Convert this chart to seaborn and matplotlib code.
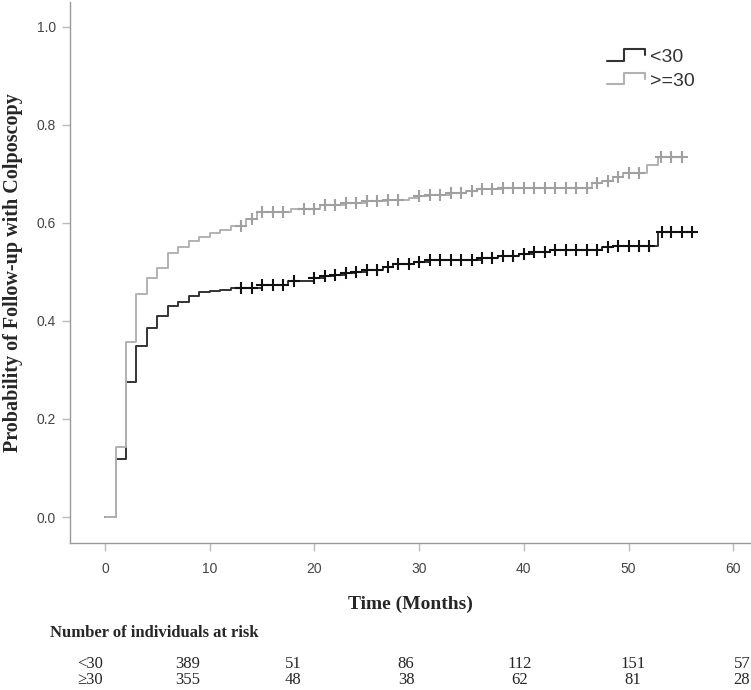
import matplotlib
matplotlib.use("Agg")
import matplotlib.pyplot as plt
from matplotlib.lines import Line2D
from matplotlib.legend_handler import HandlerBase
import seaborn as sns
import numpy as np
import pandas as pd

# Kaplan-Meier style step data
young_times = [0, 1, 2, 3, 4, 5, 6, 7, 8, 9, 10, 11, 12, 15, 17.5, 20, 21, 22, 23, 24,
               25, 26.5, 27.5, 29.5, 31, 34, 36, 37.5, 39.5, 41, 42.5, 47.5, 48.5, 52.8, 56.1]
young_probs = [0.0, 0.118, 0.276, 0.348, 0.385, 0.410, 0.431, 0.439, 0.451, 0.458, 0.461,
               0.463, 0.467, 0.474, 0.482, 0.487, 0.491, 0.494, 0.497, 0.500, 0.504, 0.509,
               0.516, 0.520, 0.523, 0.525, 0.528, 0.533, 0.536, 0.541, 0.545, 0.550, 0.553,
               0.582, 0.582]
young_censor = [13, 14, 15, 16, 17, 18, 20, 21, 22, 23, 24, 25, 26, 27, 28, 29, 30, 31, 32,
                33, 34, 35, 36, 37, 38, 39, 40, 41, 42, 43, 44, 45, 46, 47, 48, 49, 50, 51,
                52, 53.2, 54.1, 55.1, 56.1]

old_times = [0, 1, 2, 3, 4, 5, 6, 7, 8, 9, 10, 11, 12, 13.5, 14.5, 17.8, 20.5, 23, 25, 27,
             29, 30, 31, 33, 34.5, 35.5, 38, 46.5, 47.5, 48.5, 49.5, 51.8, 52.8, 55.1]
old_probs = [0.0, 0.142, 0.357, 0.455, 0.487, 0.508, 0.538, 0.550, 0.562, 0.570, 0.579,
             0.586, 0.594, 0.607, 0.621, 0.628, 0.636, 0.641, 0.644, 0.647, 0.650, 0.654,
             0.657, 0.661, 0.665, 0.669, 0.671, 0.681, 0.686, 0.693, 0.701, 0.718, 0.735,
             0.735]
old_censor = [13, 14, 15, 16, 17, 19, 20, 21, 22, 23, 24, 25, 26, 27, 28, 30, 31, 32, 33,
              34, 35, 36, 37, 38, 39, 40, 41, 42, 43, 44, 45, 46, 47, 48, 49, 50, 51,
              53.1, 54.1, 55.1]

groups = ["<30", ">=30"]
risk_labels = ["<30", "\u226530"]
risk_young = [389, 51, 86, 112, 151, 57]
risk_old = [355, 48, 38, 62, 81, 28]

colors = {"<30": "#333333", ">=30": "#b2b2b2"}
censor_colors = {"<30": "#111111", ">=30": "#a0a0a0"}

curves = pd.concat([
    pd.DataFrame({"time": young_times, "prob": young_probs, "group": "<30"}),
    pd.DataFrame({"time": old_times, "prob": old_probs, "group": ">=30"}),
], ignore_index=True)


def censor_frame(times, probs, ctimes, name):
    idx = np.searchsorted(times, ctimes, side="right") - 1
    return pd.DataFrame({"time": ctimes, "prob": np.asarray(probs)[idx], "group": name})


marks = pd.concat([
    censor_frame(young_times, young_probs, young_censor, "<30"),
    censor_frame(old_times, old_probs, old_censor, ">=30"),
], ignore_index=True)


class StepHandler(HandlerBase):
    # draws the little step glyph used in the legend
    def create_artists(self, legend, orig_handle, xdescent, ydescent, width, height, fontsize, trans):
        xs = np.array([0, 0.45, 0.45, 1.0, 1.0]) * width - xdescent
        ys = np.array([0.1, 0.1, 0.95, 0.95, 0.5]) * height - ydescent
        line = Line2D(xs, ys, color=orig_handle.get_color(), lw=1.5)
        line.set_transform(trans)
        return [line]


sns.set_style("ticks")
fig = plt.figure(figsize=(7.51, 6.90), dpi=100)
ax = fig.add_axes([70 / 751, 1 - 543 / 690, 680 / 751, 541 / 690])

sns.lineplot(data=curves, x="time", y="prob", hue="group", palette=colors,
             drawstyle="steps-post", estimator=None, linewidth=1.4, legend=False, ax=ax)
for g in groups:
    sub = marks[marks["group"] == g]
    ax.plot(sub["time"], sub["prob"], linestyle="none", marker="+", markersize=8,
            markeredgewidth=1.5, color=censor_colors[g])

ax.set_xlim(-3.35, 61.6)
ax.set_ylim(-0.053, 1.05)
ax.set_xticks([0, 10, 20, 30, 40, 50, 60])
ax.set_yticks([0.0, 0.2, 0.4, 0.6, 0.8, 1.0])
ax.set_yticklabels(["0.0", "0.2", "0.4", "0.6", "0.8", "1.0"])
sns.despine(ax=ax)
for side in ["left", "bottom"]:
    ax.spines[side].set_color("#9a9a9a")
    ax.spines[side].set_linewidth(1.0)
ax.tick_params(axis="both", colors="#bbbbbb", labelcolor="#444444", length=6, width=1,
               labelsize=10)
for lab in ax.get_xticklabels() + ax.get_yticklabels():
    lab.set_family("Liberation Sans")
ax.tick_params(axis="x", pad=8)
ax.tick_params(axis="y", pad=4)

ax.set_xlabel("Time (Months)", family="Liberation Serif", fontweight="bold", fontsize=14,
              labelpad=14)
ax.set_ylabel("Probability of Follow-up with Colposcopy", family="Liberation Serif",
              fontweight="bold", fontsize=14.5, labelpad=10)

handles = [Line2D([], [], color=colors[g]) for g in groups]
leg = ax.legend(handles, groups, handler_map={Line2D: StepHandler()}, loc="upper left",
                bbox_to_anchor=(589 / 751, 1 - 31 / 690), bbox_transform=fig.transFigure,
                frameon=False, prop={"family": "Liberation Sans", "size": 14},
                handlelength=2.0, handletextpad=0.25, labelspacing=0.3)
for t in leg.get_texts():
    t.set_color("#333333")

# number at risk table
fig.text(50 / 751, 1 - 633 / 690, "Number of individuals at risk", family="Liberation Serif",
         fontweight="bold", fontsize=12, va="center", ha="left")
col_x = [188, 293, 406, 520, 633, 742]
for row, (lab, vals) in enumerate(zip(risk_labels, [risk_young, risk_old])):
    y = 1 - (664 + row * 16.5) / 690
    fig.text(90 / 751, y, lab, family="Liberation Serif", fontsize=12, va="center", ha="center")
    for cx, v in zip(col_x, vals):
        fig.text(cx / 751, y, str(v), family="Liberation Serif", fontsize=12, va="center",
                 ha="center")

fig.savefig("out.png", dpi=100)
